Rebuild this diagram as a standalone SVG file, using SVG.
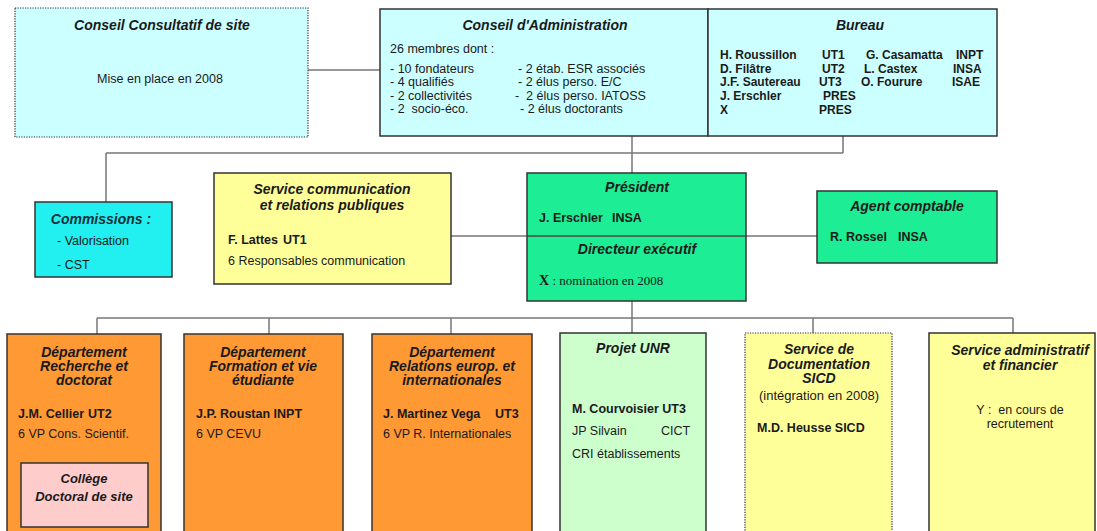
<svg xmlns="http://www.w3.org/2000/svg" width="1097" height="531" viewBox="0 0 1097 531">
<style>
.box{stroke:#333;stroke-width:1.5}
.dot{stroke:#333;stroke-width:1.2;stroke-dasharray:1.2 1.3}
.conn{stroke:#777;stroke-width:1.5;fill:none}
.t{font-family:"Liberation Sans",Arial,sans-serif;font-size:14px;font-weight:bold;font-style:italic;fill:#1a1a1a;text-anchor:middle}
.r{font-family:"Liberation Sans",Arial,sans-serif;font-size:12.5px;fill:#1a1a1a}
.rb{font-family:"Liberation Sans",Arial,sans-serif;font-size:12.5px;font-weight:bold;fill:#1a1a1a}
.bu{font-family:"Liberation Sans",Arial,sans-serif;font-size:12px;font-weight:bold;fill:#1a1a1a}
.c{text-anchor:middle}
.serif{font-family:"Liberation Serif","Times New Roman",serif;font-size:13px;fill:#1a1a1a}
</style>
<g id="connectors">
<path class="conn" d="M308 70H380M632 136V173M843 136V153M106 153H843M106 153V202M451 236H817M632 301V318M97 318H1013M97 318V334M269 318V334M451 318V334M632 318V333M813 318V333M1013 318V333"/>
</g>
<g id="conseil-consultatif">
<rect x="15" y="8" width="293" height="129" fill="#CCFFFF" class="dot"/>
<text class="t" x="162" y="30">Conseil Consultatif de site</text>
<text class="r c" x="160" y="82.5">Mise en place en 2008</text>
</g>
<g id="conseil-administration">
<rect x="380" y="9" width="328" height="127" fill="#CCFFFF" class="box"/>
<text class="t" x="545" y="30">Conseil d'Administration</text>
<text class="r" x="390" y="52.5">26 membres dont :</text>
<text class="r" x="390" y="72.5">- 10 fondateurs</text>
<text class="r" x="390" y="86">- 4 qualifiés</text>
<text class="r" x="390" y="99.5">- 2 collectivités</text>
<text class="r" x="390" y="113" xml:space="preserve">- 2  socio-éco.</text>
<text class="r" x="518" y="72.5">- 2 étab. ESR associés</text>
<text class="r" x="518" y="86">- 2 élus perso. E/C</text>
<text class="r" x="515" y="99.5" xml:space="preserve">-  2 élus perso. IATOSS</text>
<text class="r" x="520" y="113">- 2 élus doctorants</text>
</g>
<g id="bureau">
<rect x="708" y="9" width="289" height="127" fill="#CCFFFF" class="box"/>
<text class="t" x="860" y="30">Bureau</text>
<text class="bu" y="59"><tspan x="720">H. Roussillon</tspan><tspan x="822">UT1</tspan><tspan x="866">G. Casamatta</tspan><tspan x="956">INPT</tspan></text>
<text class="bu" y="72.7"><tspan x="720">D. Filâtre</tspan><tspan x="822">UT2</tspan><tspan x="864">L. Castex</tspan><tspan x="953">INSA</tspan></text>
<text class="bu" y="86.4"><tspan x="720">J.F. Sautereau</tspan><tspan x="819">UT3</tspan><tspan x="861">O. Fourure</tspan><tspan x="952">ISAE</tspan></text>
<text class="bu" y="100.1"><tspan x="720">J. Erschler</tspan><tspan x="823">PRES</tspan></text>
<text class="bu" y="113.8"><tspan x="720">X</tspan><tspan x="819">PRES</tspan></text>
</g>
<g id="commissions">
<rect x="35" y="202" width="137" height="75" fill="#22F0F0" class="box"/>
<text class="t" x="101" y="224" style="fill:#12303a">Commissions :</text>
<text class="r" x="57" y="245">- Valorisation</text>
<text class="r" x="57" y="269">- CST</text>
</g>
<g id="service-communication">
<rect x="214" y="173" width="237" height="111" fill="#FFFF99" class="box"/>
<text class="t" x="332" y="194">Service communication</text>
<text class="t" x="332" y="210">et relations publiques</text>
<text class="rb" y="244"><tspan x="228">F. Lattes</tspan><tspan x="283">UT1</tspan></text>
<text class="r" x="228" y="265">6 Responsables communication</text>
</g>
<g id="president">
<rect x="527" y="173" width="219" height="128" fill="#1DEE95" class="box"/>
<line x1="527" y1="236" x2="746" y2="236" stroke="#444" stroke-width="1.5"/>
<text class="t" x="637" y="192">Président</text>
<text class="rb" y="222"><tspan x="539">J. Erschler</tspan><tspan x="612">INSA</tspan></text>
<text class="t" x="637" y="254">Directeur exécutif</text>
<text class="serif" x="539" y="285"><tspan font-weight="bold" font-size="14">X</tspan> : nomination en 2008</text>
</g>
<g id="agent-comptable">
<rect x="817" y="191" width="180" height="72" fill="#1DEE95" class="box"/>
<text class="t" x="907" y="211">Agent comptable</text>
<text class="rb" y="241"><tspan x="830">R. Rossel</tspan><tspan x="898">INSA</tspan></text>
</g>
<g id="dept-recherche">
<rect x="7" y="334" width="154" height="212" fill="#FF9933" class="box"/>
<text class="t" x="84" y="357">Département</text>
<text class="t" x="84" y="371">Recherche et</text>
<text class="t" x="84" y="385">doctorat</text>
<text class="rb" y="418"><tspan x="18">J.M. Cellier</tspan><tspan x="88">UT2</tspan></text>
<text class="r" x="18" y="438">6 VP Cons. Scientif.</text>
</g>
<g id="college-doctoral">
<rect x="21" y="463" width="127" height="64" fill="#FFCCCC" class="box"/>
<text class="t" x="84" y="483" style="font-size:13px">Collège</text>
<text class="t" x="84" y="501" style="font-size:13px">Doctoral de site</text>
</g>
<g id="dept-formation">
<rect x="184" y="334" width="159" height="212" fill="#FF9933" class="box"/>
<text class="t" x="263" y="357">Département</text>
<text class="t" x="263" y="371">Formation et vie</text>
<text class="t" x="263" y="385">étudiante</text>
<text class="rb" x="196" y="418">J.P. Roustan INPT</text>
<text class="r" x="196" y="438">6 VP CEVU</text>
</g>
<g id="dept-relations">
<rect x="372" y="334" width="160" height="212" fill="#FF9933" class="box"/>
<text class="t" x="452" y="357">Département</text>
<text class="t" x="452" y="371">Relations europ. et</text>
<text class="t" x="452" y="385">internationales</text>
<text class="rb" y="418"><tspan x="383">J. Martinez Vega</tspan><tspan x="495">UT3</tspan></text>
<text class="r" x="383" y="438">6 VP R. Internationales</text>
</g>
<g id="projet-unr">
<rect x="560" y="333" width="146" height="213" fill="#CCFFCC" class="box"/>
<text class="t" x="633" y="353">Projet UNR</text>
<text class="rb" x="572" y="412.5">M. Courvoisier UT3</text>
<text class="r" y="434.5"><tspan x="572">JP Silvain</tspan><tspan x="661">CICT</tspan></text>
<text class="r" x="572" y="457.5">CRI établissements</text>
</g>
<g id="service-documentation">
<rect x="745" y="333" width="147" height="213" fill="#FFFF99" class="dot"/>
<text class="t" x="819" y="354">Service de</text>
<text class="t" x="819" y="368.5">Documentation</text>
<text class="t" x="819" y="383">SICD</text>
<text class="r c" x="819" y="399.5" style="font-size:13px">(intégration en 2008)</text>
<text class="rb" x="757" y="432">M.D. Heusse SICD</text>
</g>
<g id="service-administratif">
<rect x="929" y="333" width="166" height="213" fill="#FFFF99" class="box"/>
<text class="t" x="1020" y="355">Service administratif</text>
<text class="t" x="1020" y="369.5">et financier</text>
<text class="r c" x="1020" y="414" xml:space="preserve">Y :  en cours de</text>
<text class="r c" x="1020" y="428">recrutement</text>
</g>
</svg>
